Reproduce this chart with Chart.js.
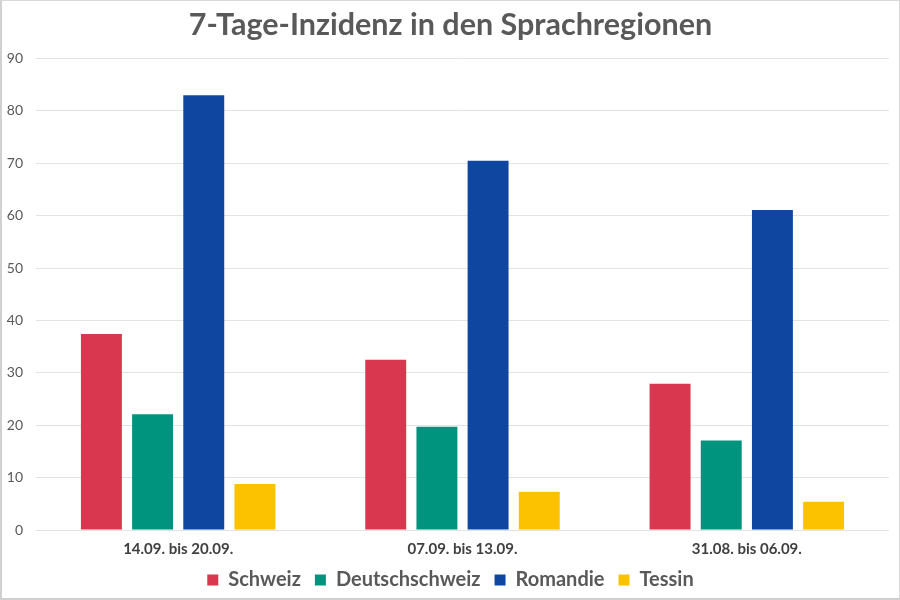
<!DOCTYPE html>
<html>
<head>
<meta charset="utf-8">
<script src="https://cdn.jsdelivr.net/npm/chart.js@4"></script>
<style>
html,body{margin:0;padding:0;background:#fff;}
#wrap{width:900px;height:600px;box-sizing:border-box;border:1px solid #d9d9d9;border-left:2px solid #d0d0d0;border-bottom:2px solid #d0d0d0;}
canvas{display:block;}
</style>
</head>
<body>
<div id="wrap"><canvas id="c" width="897" height="597"></canvas></div>
<script>
const categories = ["14.09. bis 20.09.", "07.09. bis 13.09.", "31.08. bis 06.09."];
const schweiz = [37.4, 32.5, 27.9];
const deutschschweiz = [22.1, 19.7, 17.1];
const romandie = [83.0, 70.5, 61.1];
const tessin = [8.8, 7.3, 5.4];
const seriesNames = ["Schweiz", "Deutschschweiz", "Romandie", "Tessin"];
const seriesColors = ["#d9364f", "#00937e", "#0f46a0", "#fcc200"];
const title = "7-Tage-Inzidenz in den Sprachregionen";

const values = [schweiz, deutschschweiz, romandie, tessin];
new Chart(document.getElementById('c'), {
  type: 'bar',
  data: {
    labels: categories,
    datasets: seriesNames.map((n, i) => ({
      label: n,
      data: values[i],
      backgroundColor: seriesColors[i],
      borderWidth: 0,
      barPercentage: 0.8,
      categoryPercentage: 0.72
    }))
  },
  options: {
    responsive: false,
    animation: false,
    layout: {padding: {left: 0, right: 0, top: 0, bottom: -2}},
    plugins: {
      title: {
        display: true, text: title, color: '#595959',
        font: {family: 'Lato', size: 30.5, weight: 'bold'},
        padding: {top: 6, bottom: 15}
      },
      legend: {
        position: 'bottom',
        labels: {
          color: '#595959', boxWidth: 11, boxHeight: 11, padding: 14,
          font: {family: 'Lato', size: 20, weight: 'bold'}
        }
      },
      tooltip: {enabled: false}
    },
    scales: {
      x: {
        grid: {display: false, drawTicks: false},
        border: {display: false},
        ticks: {color: '#404040', font: {family: 'Lato', size: 15, weight: 'bold'}, padding: 10},
        afterFit: (s) => { s.height = 26; }
      },
      y: {
        min: 0, max: 90,
        ticks: {stepSize: 10, color: '#595959', font: {family: 'Lato', size: 14}, padding: 13},
        grid: {color: '#e3e3e3', drawTicks: false, lineWidth: 1},
        border: {display: false},
        afterFit: (s) => { s.width = 34; }
      },
      yRightSpace: {
        type: 'linear', position: 'right', display: true,
        ticks: {display: false},
        grid: {display: false, drawTicks: false},
        border: {display: false},
        afterFit: (s) => { s.width = 10; }
      }
    }
  }
});
</script>
</body>
</html>
